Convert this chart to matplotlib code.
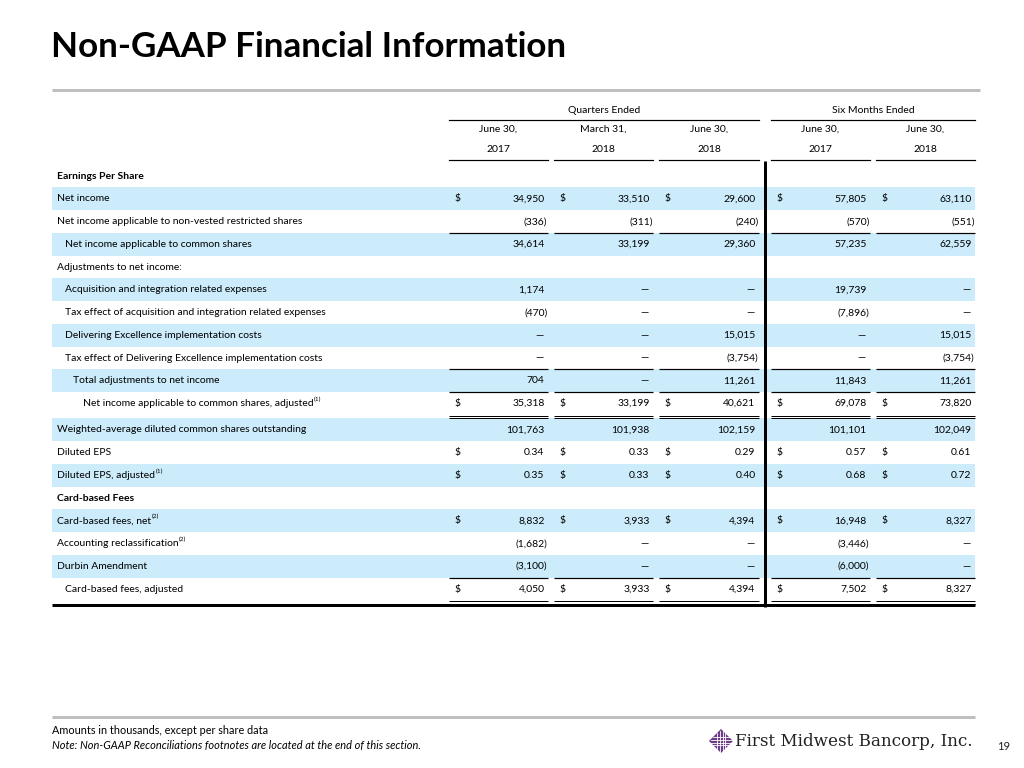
import matplotlib
matplotlib.use("Agg")
import matplotlib.pyplot as plt
from matplotlib.patches import Rectangle, Polygon

# ---------------- data ----------------
title = "Non-GAAP Financial Information"
group_labels = ["Quarters Ended", "Six Months Ended"]
col_dates = ["June 30,", "March 31,", "June 30,", "June 30,", "June 30,"]
col_years = ["2017", "2018", "2018", "2017", "2018"]

row_labels = [
    "Earnings Per Share",
    "Net income",
    "Net income applicable to non-vested restricted shares",
    "Net income applicable to common shares",
    "Adjustments to net income:",
    "Acquisition and integration related expenses",
    "Tax effect of acquisition and integration related expenses",
    "Delivering Excellence implementation costs",
    "Tax effect of Delivering Excellence implementation costs",
    "Total adjustments to net income",
    "Net income applicable to common shares, adjusted",
    "Weighted-average diluted common shares outstanding",
    "Diluted EPS",
    "Diluted EPS, adjusted",
    "Card-based Fees",
    "Card-based fees, net",
    "Accounting reclassification",
    "Durbin Amendment",
    "Card-based fees, adjusted",
]
row_notes = ["", "", "", "", "", "", "", "", "", "", "(1)", "", "", "(1)", "", "(2)", "(2)", "", ""]
row_indent = [0, 0, 0, 1, 0, 1, 1, 1, 1, 2, 3, 0, 0, 0, 0, 0, 0, 0, 1]
row_bold = [True] + [False] * 13 + [True] + [False] * 4
row_dollar = [False, True, False, False, False, False, False, False, False, False, True,
              False, True, True, False, True, False, False, True]

D = None  # shown as dash
row_values = [
    None,
    [34950, 33510, 29600, 57805, 63110],
    [-336, -311, -240, -570, -551],
    [34614, 33199, 29360, 57235, 62559],
    None,
    [1174, D, D, 19739, D],
    [-470, D, D, -7896, D],
    [D, D, 15015, D, 15015],
    [D, D, -3754, D, -3754],
    [704, D, 11261, 11843, 11261],
    [35318, 33199, 40621, 69078, 73820],
    [101763, 101938, 102159, 101101, 102049],
    [0.34, 0.33, 0.29, 0.57, 0.61],
    [0.35, 0.33, 0.40, 0.68, 0.72],
    None,
    [8832, 3933, 4394, 16948, 8327],
    [-1682, D, D, -3446, D],
    [-3100, D, D, -6000, D],
    [4050, 3933, 4394, 7502, 8327],
]
decimals_rows = {12, 13}

footer1 = "Amounts in thousands, except per share data"
footer2 = "Note: Non-GAAP Reconciliations footnotes are located at the end of this section."
company = "First Midwest Bancorp, Inc."
page_no = "19"

# ---------------- layout ----------------
FONT = "Lato"
fig = plt.figure(figsize=(10.24, 7.68), dpi=100)
ax = fig.add_axes([0, 0, 1, 1])
ax.set_xlim(0, 1024)
ax.set_ylim(768, 0)
ax.axis("off")

BLUE = "#CCECFC"
GRAY = "#BFBFBF"
PX = 0.72  # points per pixel
fs = 7.5

L, R = 52, 975
cols = [(449, 548), (554, 653), (659, 759), (771, 870), (876, 975)]
bar_x = 764.5

# title
ax.text(51, 47, title, fontsize=25.2, fontweight="bold", family=FONT, va="center", ha="left", color="#000000")
ax.plot([52, 980], [90, 90], color=GRAY, lw=3 * PX, solid_capstyle="butt")

# header
ax.text((cols[0][0] + cols[2][1]) / 2, 110.5, group_labels[0], fontsize=fs, family=FONT, ha="center", va="center")
ax.text((cols[3][0] + cols[4][1]) / 2, 110.5, group_labels[1], fontsize=fs, family=FONT, ha="center", va="center")
ax.plot([cols[0][0], cols[2][1]], [120, 120], color="black", lw=1.2 * PX)
ax.plot([cols[3][0], cols[4][1]], [120, 120], color="black", lw=1.2 * PX)
for (c0, c1), d, yv in zip(cols, col_dates, col_years):
    cx = (c0 + c1) / 2
    ax.text(cx, 129.5, d, fontsize=fs, family=FONT, ha="center", va="center")
    ax.text(cx, 149.5, yv, fontsize=fs, family=FONT, ha="center", va="center")
    ax.plot([c0, c1], [160, 160], color="black", lw=1.2 * PX)

# rows
heights = []
for i in range(len(row_labels)):
    heights.append(26.3 if i in (10, 18) else 22.75)
tops = [164.5]
for h in heights[:-1]:
    tops.append(tops[-1] + h)

indent_x = [57, 65, 73, 83]


def fmt(v, dec):
    if v is None:
        return "\u2014"
    s = f"{abs(v):,.2f}" if dec else f"{abs(v):,.0f}"
    return f"({s})" if v < 0 else s


fig.canvas.draw()
renderer = fig.canvas.get_renderer()

for i, lab in enumerate(row_labels):
    top = tops[i]
    h = heights[i]
    yc = top + 11.6
    if i % 2 == 1:
        ax.add_patch(Rectangle((L, top), R - L, 22.75, facecolor=BLUE, edgecolor="none", zorder=0))
    t = ax.text(indent_x[row_indent[i]], yc, lab, fontsize=fs, family=FONT,
                fontweight="bold" if row_bold[i] else "normal", ha="left", va="center")
    if row_notes[i]:
        bb = t.get_window_extent(renderer)
        xr = bb.x1  # pixels == data x
        ax.text(xr + 0.5, yc - 4, row_notes[i], fontsize=fs * 0.62, family=FONT, ha="left", va="center")
    vals = row_values[i]
    if vals is None:
        continue
    for j, v in enumerate(vals):
        c0, c1 = cols[j]
        s = fmt(v, i in decimals_rows)
        if v is not None and v < 0:
            ax.text(c1 - 0.5, yc, s, fontsize=fs, family=FONT, ha="right", va="center")
        elif v is None:
            ax.text(c1 - 4, yc, s, fontsize=fs, family=FONT, ha="right", va="center")
        else:
            ax.text(c1 - 3.5, yc, s, fontsize=fs, family=FONT, ha="right", va="center")
        if row_dollar[i]:
            ax.text(c0 + 6, yc, "$", fontsize=fs, family=FONT, ha="left", va="center")

# underlines
def single(y):
    for c0, c1 in cols:
        ax.plot([c0, c1], [y, y], color="black", lw=1.2 * PX, solid_capstyle="butt")


def double(y):
    for c0, c1 in cols:
        ax.plot([c0, c1], [y, y], color="black", lw=1.0 * PX, solid_capstyle="butt")
        ax.plot([c0, c1], [y + 2.5, y + 2.5], color="black", lw=1.0 * PX, solid_capstyle="butt")


single(tops[3])
single(tops[9])
single(tops[10])
double(tops[10] + 23.5)
single(tops[18])
double(tops[18] + 23.5)

bottom = tops[18] + heights[18]
ax.plot([L, R], [bottom + 1.5, bottom + 1.5], color="black", lw=3 * PX, solid_capstyle="butt")
ax.plot([bar_x, bar_x], [160.5, bottom + 3], color="black", lw=3 * PX, solid_capstyle="butt")

# footer
ax.plot([52, 975], [717, 717], color=GRAY, lw=3 * PX, solid_capstyle="butt")
ax.text(52, 731, footer1, fontsize=7.8, family=FONT, ha="left", va="center")
ax.text(52, 745.5, footer2, fontsize=7.9, family=FONT, style="italic", ha="left", va="center")

# logo icon (diamond)
cx, cy, r = 721, 741, 12
ax.add_patch(Polygon([[cx - r, cy], [cx, cy - r], [cx + r, cy], [cx, cy + r]], closed=True,
                     facecolor="#6E3B86", edgecolor="none"))
for d in (-4, -1.5, 1.5, 4):
    ax.plot([cx + d, cx + d], [cy - r + abs(d), cy + r - abs(d)], color="white", lw=0.6)
    ax.plot([cx - r + abs(d), cx + r - abs(d)], [cy + d, cy + d], color="white", lw=0.6)
ax.text(735, 742, company, fontsize=12.1, family="DejaVu Serif", ha="left", va="center", color="#222222")
ax.text(1004, 746, page_no, fontsize=8, family=FONT, ha="center", va="center", color="#222222")

fig.savefig("out.png", dpi=100)
